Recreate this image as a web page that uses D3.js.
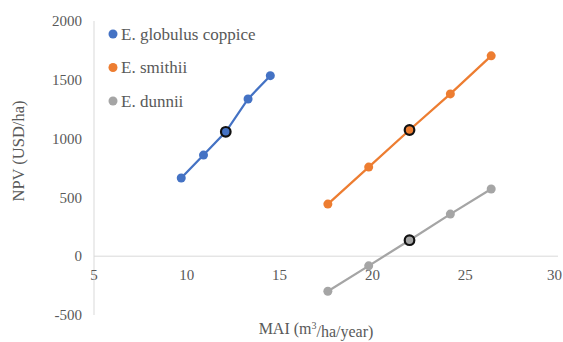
<!DOCTYPE html>
<html><head><meta charset="utf-8">
<script src="https://cdn.jsdelivr.net/npm/d3@7"></script>
<style>body{margin:0;background:#fff}svg{display:block}</style>
</head><body>
<svg id="c" width="563" height="342"></svg>
<script>
const seriesNames = ["E. globulus coppice", "E. smithii", "E. dunnii"];
const seriesColors = ["#4472C4", "#ED7D31", "#A5A5A5"];
const globulusMAI = [9.7, 10.9, 12.1, 13.3, 14.5];
const globulusNPV = [665, 860, 1058, 1337, 1535];
const smithiiMAI = [17.6, 19.8, 22.0, 24.2, 26.4];
const smithiiNPV = [443, 758, 1073, 1380, 1704];
const dunniiMAI = [17.6, 19.8, 22.0, 24.2, 26.4];
const dunniiNPV = [-298, -82, 136, 358, 571];
const highlightIndex = [2, 2, 2];
const xTicks = [5, 10, 15, 20, 25, 30];
const yTicks = [-500, 0, 500, 1000, 1500, 2000];

const svg = d3.select("#c");
const FONT = "Liberation Serif";
const TXT = "#595959";
const x = d3.scaleLinear().domain([5, 30]).range([94, 558]);
const y = d3.scaleLinear().domain([-500, 2000]).range([315, 21]);

svg.append("line").attr("x1", x(5)).attr("x2", x(5)).attr("y1", y(2000)).attr("y2", y(-500))
  .attr("stroke", "#d9d9d9").attr("stroke-width", 1);
svg.append("line").attr("x1", x(5)).attr("x2", x(30)).attr("y1", y(0)).attr("y2", y(0))
  .attr("stroke", "#d9d9d9").attr("stroke-width", 1);

svg.selectAll(".yt").data(yTicks).enter().append("text")
  .attr("x", 82).attr("y", d => y(d)).attr("dy", "0.35em").attr("text-anchor", "end")
  .attr("font-family", FONT).attr("fill", TXT).attr("font-size", 15).text(d => d);
svg.selectAll(".xt").data(xTicks).enter().append("text")
  .attr("x", d => x(d)).attr("y", y(0) + 19).attr("dy", "0.35em").attr("text-anchor", "middle")
  .attr("font-family", FONT).attr("fill", TXT).attr("font-size", 15).text(d => d)
  .each(function () {
    const b = this.getBBox();
    if (b.x + b.width > 562) this.setAttribute("x", +this.getAttribute("x") - (b.x + b.width - 562));
  });

svg.append("text").attr("transform", "translate(18,151) rotate(-90)").attr("text-anchor", "middle")
  .attr("dy", "0.35em").attr("font-family", FONT).attr("fill", TXT).attr("font-size", 16.5).text("NPV (USD/ha)");
const xt = svg.append("text").attr("x", 316).attr("y", 334).attr("text-anchor", "middle")
  .attr("font-family", FONT).attr("fill", TXT).attr("font-size", 16);
xt.append("tspan").text("MAI (m");
xt.append("tspan").attr("font-size", 10).attr("dy", "-0.5em").text("3");
xt.append("tspan").attr("dy", "0.5em").text("/ha/year)");

const series = [
  {name: seriesNames[0], color: seriesColors[0], xs: globulusMAI, ys: globulusNPV, h: highlightIndex[0]},
  {name: seriesNames[1], color: seriesColors[1], xs: smithiiMAI, ys: smithiiNPV, h: highlightIndex[1]},
  {name: seriesNames[2], color: seriesColors[2], xs: dunniiMAI, ys: dunniiNPV, h: highlightIndex[2]}
];
const line = d3.line().x(d => x(d[0])).y(d => y(d[1]));
series.forEach(s => {
  const pts = s.xs.map((v, i) => [v, s.ys[i]]);
  const g = svg.append("g");
  g.append("path").attr("d", line(pts)).attr("fill", "none").attr("stroke", s.color).attr("stroke-width", 2.25);
  g.selectAll("circle").data(pts).enter().append("circle")
    .attr("cx", d => x(d[0])).attr("cy", d => y(d[1])).attr("r", 4.5).attr("fill", s.color);
  const hp = pts[s.h];
  g.append("circle").attr("cx", x(hp[0])).attr("cy", y(hp[1])).attr("r", 4.8)
    .attr("fill", s.color).attr("stroke", "#111").attr("stroke-width", 2.2);
});

series.forEach((s, i) => {
  const ly = 34 + i * 33.5;
  svg.append("circle").attr("cx", 113).attr("cy", ly).attr("r", 4.5).attr("fill", s.color);
  svg.append("text").attr("x", 121).attr("y", ly).attr("dy", "0.35em").attr("font-family", FONT)
    .attr("fill", TXT).attr("font-size", 17).text(s.name);
});
</script>
</body></html>
